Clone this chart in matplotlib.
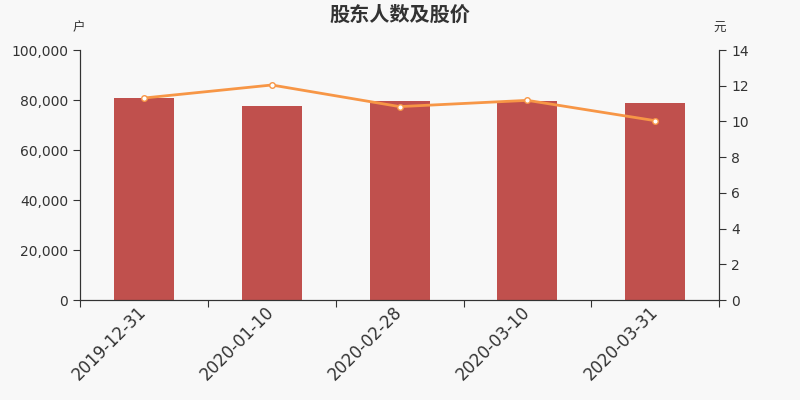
import numpy as np
import matplotlib.pyplot as plt

plt.rcParams['font.family'] = ['DejaVu Sans', 'Noto Sans CJK SC']

# data
dates = ['2019-12-31', '2020-01-10', '2020-02-28', '2020-03-10', '2020-03-31']
holders = [80800, 77800, 79600, 79600, 78800]
price = [11.31, 12.04, 10.83, 11.18, 10.04]

bg = '#f8f8f8'
axis_color = '#333333'

fig = plt.figure(figsize=(8, 4), dpi=100, facecolor=bg)
ax = fig.add_axes([0.1, 0.25, 0.799, 0.625], facecolor=bg)
x = np.arange(len(dates))

ax.bar(x, holders, width=0.47, color='#c0504d', zorder=2)
ax.set_xlim(-0.5, len(dates) - 0.5)
ax.set_ylim(0, 100000)
ax.set_yticks(np.arange(0, 100001, 20000))
ax.set_yticklabels([f'{v:,}' for v in range(0, 100001, 20000)])

# ticks on category boundaries, labels at centers
ax.set_xticks(np.arange(-0.5, len(dates), 1.0))
ax.set_xticklabels([])
ax.set_xticks(x, minor=True)
ax.set_xticklabels(dates, minor=True, rotation=45, ha='right', va='center',
                   rotation_mode='anchor', fontsize=12, color=axis_color)
ax.tick_params(axis='x', which='minor', length=0, pad=7)
ax.tick_params(axis='x', which='major', length=5, color=axis_color)
ax.tick_params(axis='y', length=5, color=axis_color, labelsize=10, labelcolor=axis_color)

ax2 = ax.twinx()
ax2.plot(x, price, color='#f79646', linewidth=2, marker='o', markersize=4,
         markerfacecolor='white', markeredgecolor='#f79646', markeredgewidth=1, zorder=3)
ax2.set_ylim(0, 14)
ax2.set_yticks(np.arange(0, 15, 2))
ax2.tick_params(axis='y', length=5, color=axis_color, labelsize=10, labelcolor=axis_color)

for a in (ax, ax2):
    a.spines['top'].set_visible(False)
    for s in ('left', 'right', 'bottom'):
        a.spines[s].set_color(axis_color)

fig.text(0.5, 0.965, '股东人数及股价', ha='center', va='center', fontsize=14.5,
         fontweight='bold', color=axis_color, family='Noto Sans CJK SC')
fig.text(0.098, 0.93, '户', ha='center', va='center', fontsize=9, color=axis_color,
         family='Noto Sans CJK SC')
fig.text(0.899, 0.93, '元', ha='center', va='center', fontsize=9, color=axis_color,
         family='Noto Sans CJK SC')

fig.savefig('out.png', dpi=100, facecolor=bg)
